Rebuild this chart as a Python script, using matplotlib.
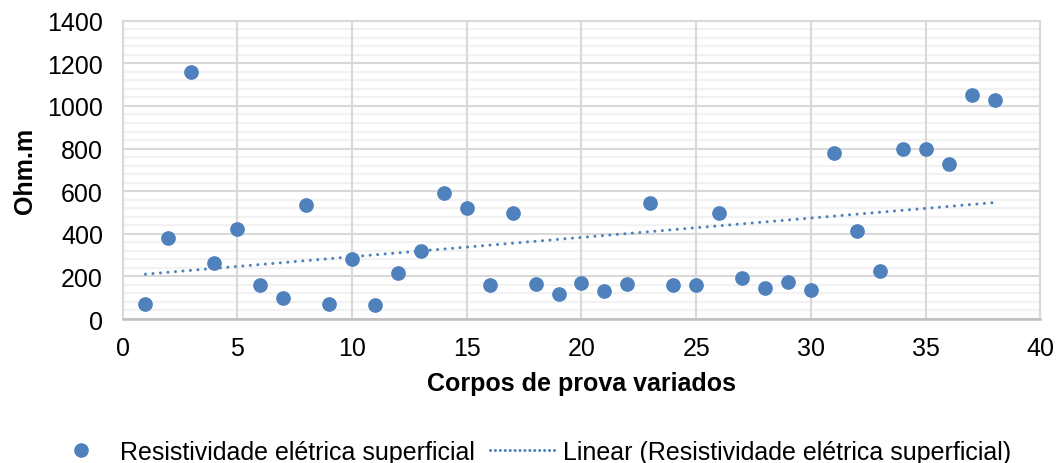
import numpy as np
import matplotlib
matplotlib.use("Agg")
import matplotlib.pyplot as plt
from matplotlib.lines import Line2D

plt.rcParams['font.family'] = ['Liberation Sans', 'DejaVu Sans']

# Surface electrical resistivity of each specimen (Ohm.m)
specimen = list(range(1, 39))
resistivity = [69, 380, 1160, 263, 423, 158, 100, 537, 70, 282,
               64, 214, 319, 592, 520, 161, 499, 163, 117, 171,
               130, 164, 546, 158, 160, 496, 192, 146, 174, 135,
               779, 415, 225, 798, 798, 729, 1050, 1027]

x_ticks = [0, 5, 10, 15, 20, 25, 30, 35, 40]
y_ticks = [0, 200, 400, 600, 800, 1000, 1200, 1400]
y_minor_step = 40

series_name = "Resistividade elétrica superficial"
trend_name = "Linear (Resistividade elétrica superficial)"
x_title = "Corpos de prova variados"
y_title = "Ohm.m"

blue = "#4F81BD"
major_grid = "#D9D9D9"
minor_grid = "#F2F2F2"

fig = plt.figure(figsize=(10.59, 4.64), dpi=100)
ax = fig.add_axes([0.1157, 0.3103, 0.9825 - 0.1157, 0.9532 - 0.3103])

x = np.array(specimen, dtype=float)
y = np.array(resistivity, dtype=float)

ax.scatter(x, y, s=112, color=blue, zorder=3, linewidths=0)

# least-squares linear trend
slope, intercept = np.polyfit(x, y, 1)
xt = np.array([x.min(), x.max()])
ax.plot(xt, slope * xt + intercept, color=blue, lw=2.2,
        linestyle=(0, (0.01, 2.45)), dash_capstyle='round', zorder=2)

ax.set_xlim(0, 40)
ax.set_ylim(0, 1400)
ax.set_xticks(x_ticks)
ax.set_yticks(y_ticks)

# faint minor horizontal rules underneath the major grid
for v in np.arange(0, 1400 + 1, y_minor_step):
    if v % 200:
        ax.axhline(v, color=minor_grid, lw=1.6, zorder=0.1)

ax.grid(which='major', axis='both', color=major_grid, lw=1.5)
ax.set_axisbelow(True)

for side in ('top', 'right', 'left'):
    ax.spines[side].set_color(major_grid)
    ax.spines[side].set_linewidth(1.5)
ax.spines['bottom'].set_color("#BFBFBF")
ax.spines['bottom'].set_linewidth(1.8)

ax.tick_params(axis='both', which='both', length=0, labelsize=18,
               labelcolor='#000000')
ax.tick_params(axis='y', pad=14)
ax.tick_params(axis='x', pad=12)

ax.set_xlabel(x_title, fontsize=18, fontweight='bold', labelpad=8)
ax.set_ylabel(y_title, fontsize=18, fontweight='bold', labelpad=7)

handles = [
    Line2D([], [], marker='o', linestyle='none', color=blue, markersize=10.5,
           markeredgewidth=0),
    Line2D([], [], color=blue, lw=2.2, linestyle=(0, (0.01, 1.6)),
           dash_capstyle='round'),
]
fig.legend(handles, [series_name, trend_name], loc='center',
           bbox_to_anchor=(0.5, 1 - 453 / 464), ncol=2, frameon=False,
           fontsize=18, handlelength=2.64, handletextpad=0.26,
           columnspacing=0.6, borderaxespad=0, borderpad=0)

fig.savefig("out.png", dpi=100)
